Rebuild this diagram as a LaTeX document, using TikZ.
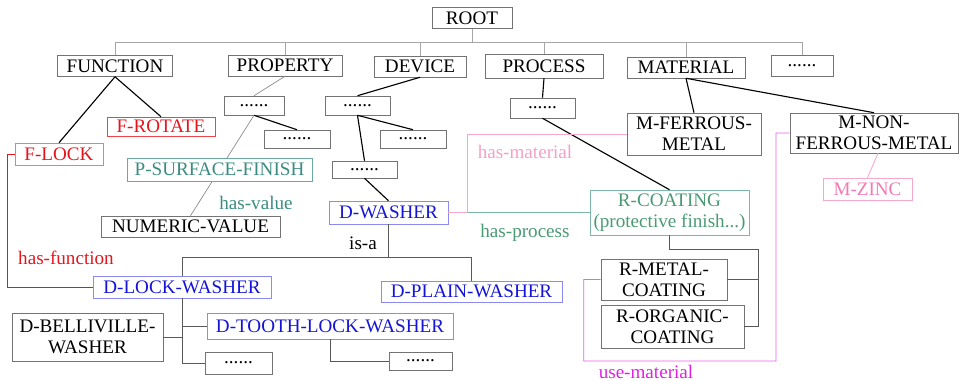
\documentclass[tikz,border=0pt]{standalone}
\usepackage{fontspec}
\setmainfont{Liberation Serif}
\usepackage{xcolor}
\usepackage{tikz}

\definecolor{fnred}{HTML}{E8141C}
\definecolor{fnpink}{HTML}{F07A80}
\definecolor{prteal}{HTML}{3B8C80}
\definecolor{prtealline}{HTML}{6AAAA2}
\definecolor{dvblue}{HTML}{1414D8}
\definecolor{dvblueline}{HTML}{8A8AF2}
\definecolor{rcgreen}{HTML}{4A9A74}
\definecolor{rcgreenline}{HTML}{7CB8A6}
\definecolor{mtpink}{HTML}{F27AB4}
\definecolor{mtpinkline}{HTML}{F6A8CC}
\definecolor{usemag}{HTML}{E020E0}
\definecolor{usemagline}{HTML}{E860E8}

\begin{document}
\begin{tikzpicture}[x=0.025cm, y=-0.025cm,
    font=\fontsize{13.6}{15}\selectfont,
    box/.style={draw=black!55, inner sep=0pt, minimum height=21*0.025cm, align=center},
    bw/.style={minimum width=#1*0.025cm},
    bh/.style={minimum height=#1*0.025cm},
    redbox/.style={box, draw=fnred!80, text=fnred},
    lockbox/.style={box, draw=fnpink, text=fnred},
    tealbox/.style={box, draw=prtealline, text=prteal},
    bluebox/.style={box, draw=dvblueline, text=dvblue},
    greenbox/.style={box, draw=rcgreenline, text=rcgreen},
    pinkbox/.style={box, draw=mtpinkline, text=mtpink},
    bus/.style={draw=black!35, line width=0.5pt},
    tree/.style={draw=black, line width=0.8pt},
    link/.style={draw=black!65, line width=0.6pt}]
  \useasboundingbox (0,0) rectangle (960,381);

  % top level
  \node[box,bw=80] (root) at (472,18) {ROOT};
  \node[box,bw=115] (function) at (115,66) {FUNCTION};
  \node[box,bw=114] (property) at (285,65.5) {PROPERTY};
  \node[box,bw=92] (device) at (420,66.5) {DEVICE};
  \node[box,bw=118,bh=24] (process) at (544,66) {PROCESS};
  \node[box,bw=118] (material) at (686,67.5) {MATERIAL};
  \node[box,bw=62] (more) at (802,66) {......};
  \coordinate (top) at (472,42);
  \draw[bus] (root.south) -- (top);
  \draw[bus] (function.north |- top) -- (more.north |- top);
  \foreach \n in {function, property, device, process, material, more} {
    \draw[bus] (\n.north) -- (\n.north |- top);
  }

  % function
  \node[redbox,bw=108,bh=19] (frotate) at (161,126.5) {F-ROTATE};
  \node[lockbox,bw=88,bh=22] (flock) at (59,154) {F-LOCK};
  \draw[tree] (function.south) -- (frotate.north);
  \draw[tree] (function.south) -- (flock.north);

  % property
  \node[box,bw=60,bh=19] (propdots) at (254,105.5) {......};
  \node[box,bw=66,bh=18] (propdotsb) at (297,139) {......};
  \node[box,bw=179,bh=21] (numvalue) at (190.5,226.5) {NUMERIC-VALUE};
  \draw[bus, draw=black!45] (property.south) -- (propdots.north);
  \draw[tree] (propdots.south) -- (propdotsb.north);
  \draw[bus, draw=black!45] (propdots.south) -- (numvalue.north);
  \node[tealbox,fill=white,bw=185,bh=23] (psurface) at (219.5,169.5) {P-SURFACE-FINISH};
  \node[text=prteal] (hasvalue) at (256,203) {has-value};

  % device
  \node[box,bw=65,bh=19] (devdots) at (357.5,105.5) {......};
  \node[box,bw=66,bh=18] (devdotsb) at (413,139) {......};
  \node[box,bw=65,bh=17] (devdotsc) at (364.5,169.5) {......};
  \node[bluebox,bw=119,bh=23] (dwasher) at (388.5,212.5) {D-WASHER};
  \draw[tree] (device.south) -- (devdots.north);
  \draw[tree] (devdots.south) -- (devdotsb.north);
  \draw[tree] (devdots.south) -- (devdotsc.north);
  \draw[tree] (devdotsc.south) -- (dwasher.north);
  \node (isa) at (363,243) {is-a};

  \node[bluebox,bw=178,bh=22] (dlock) at (182,287) {D-LOCK-WASHER};
  \node[bluebox,bw=181,bh=21] (dplain) at (471.5,291.5) {D-PLAIN-WASHER};
  \node[box,bw=151,bh=48] (belli) at (87.5,337) {D-BELLIVILLE-\\WASHER};
  \node[bluebox,bw=246,bh=26] (dtooth) at (330,326) {D-TOOTH-LOCK-WASHER};
  \node[box,bw=67,bh=22] (lockdots) at (238.5,363) {......};
  \node[box,bw=63,bh=18] (toothdots) at (420.5,361) {......};
  \coordinate (isabus) at (389,257);
  \draw[link] (dwasher.south) -- (dwasher.south |- isabus);
  \draw[link] (dlock.north) |- (dplain.north |- isabus) -- (dplain.north);
  \draw[link] (dlock.south) |- (lockdots.west);
  \draw[link] (dlock.south |- dtooth.west) -- (dtooth.west);
  \draw[link] (belli.east) -- (dlock.south |- belli.east);
  \draw[link] (dtooth.south) |- (toothdots.west);

  % process
  \node[box,bw=65,bh=20] (procdots) at (542.5,108) {......};
  \node[greenbox,bw=159,bh=45] (rcoat) at (669.5,212.5) {R-COATING\\(protective finish...)};
  \node[box,bw=126,bh=41] (rmetal) at (664,279.5) {R-METAL-\\COATING};
  \node[box,bw=143,bh=43] (rorganic) at (672.5,326.5) {R-ORGANIC-\\COATING};
  \draw[tree] (process.south) -- (procdots.north);
  \draw[tree] (procdots.south) -- (rcoat.north);
  \coordinate (coatbus) at (758,249);
  \draw[link] (rcoat.south) |- (coatbus) |- (rorganic.east);
  \draw[link] (rmetal.east) -- (rmetal.east -| coatbus);

  % material
  \node[box,bw=134,bh=42] (mferrous) at (694,134) {M-FERROUS-\\METAL};
  \node[box,bw=168,bh=40] (mnonferrous) at (874,133) {M-NON-\\FERROUS-METAL};
  \node[pinkbox,bw=89,bh=22] (mzinc) at (867.5,189) {M-ZINC};
  \draw[tree] (material.south) -- (mferrous.north);
  \draw[tree] (material.south) -- (mnonferrous.north);
  \draw[mtpinkline, line width=0.6pt] ([xshift=4*0.025cm]mnonferrous.south) -- (mzinc.north);

  % relations
  \draw[fnred, line width=0.6pt] (flock.west) -- ++(-7,0) |- (dlock.west);
  \node[text=fnred] (hasfunction) at (66,258) {has-function};
  \draw[rcgreenline, line width=0.6pt] (dwasher.east) -- (rcoat.west);
  \draw[mtpinkline, line width=0.6pt] (dwasher.east) -- ++(19,0) |- (mferrous.west);
  \node[text=mtpinkline!80!mtpink] (hasmaterial) at (525,152) {has-material};
  \node[text=rcgreen] (hasprocess) at (525,233) {has-process};
  \coordinate (usecorner) at (776,361);
  \draw[usemagline, line width=0.6pt] (rmetal.west) -| ++(-17,81.5) -- (usecorner) |- (mnonferrous.west);
  \node[text=usemag] (usematerial) at (646,372) {use-material};
\end{tikzpicture}
\end{document}
